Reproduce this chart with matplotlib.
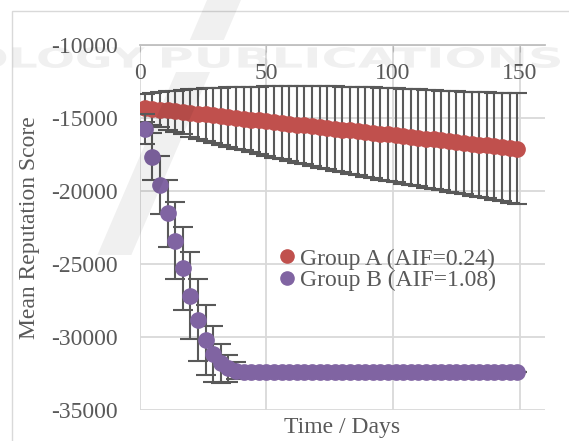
import matplotlib
matplotlib.use("Agg")
import matplotlib.pyplot as plt
from matplotlib.patches import Rectangle, PathPatch, Polygon
from matplotlib.lines import Line2D
from matplotlib.textpath import TextPath
from matplotlib.font_manager import FontProperties
from matplotlib.transforms import Affine2D

# dani (x osa) i srednje vrednosti ocitane sa grafika
days = list(range(2, 150, 3))

group_a_mean = [-14310, -14370, -14420, -14480, -14540, -14590, -14650, -14710, -14760, -14820,
                -14880, -14940, -14990, -15050, -15110, -15160, -15220, -15280, -15330, -15390,
                -15450, -15500, -15560, -15620, -15680, -15730, -15790, -15850, -15900, -15960,
                -16020, -16080, -16130, -16190, -16250, -16300, -16360, -16420, -16470, -16530,
                -16590, -16650, -16700, -16760, -16820, -16870, -16930, -16990, -17040, -17100]
group_a_err = [950, 1090, 1200, 1310, 1420, 1520, 1620, 1710, 1790, 1870,
               1950, 2030, 2100, 2170, 2240, 2310, 2380, 2450, 2510, 2570,
               2630, 2680, 2740, 2790, 2840, 2890, 2940, 2990, 3030, 3070,
               3110, 3150, 3180, 3220, 3250, 3280, 3320, 3350, 3380, 3410,
               3450, 3480, 3510, 3550, 3590, 3630, 3670, 3710, 3760, 3800]

group_b_mean = [-15750, -17650, -19590, -21530, -23400, -25300, -27170, -28840, -30200, -31160,
                -31800, -32140, -32300, -32370, -32400, -32410, -32420, -32420, -32420, -32420,
                -32420, -32420, -32420, -32420, -32420, -32420, -32420, -32420, -32420, -32420,
                -32420, -32420, -32420, -32420, -32420, -32420, -32420, -32420, -32420, -32420,
                -32420, -32420, -32420, -32420, -32420, -32420, -32420, -32420, -32420, -32420]
group_b_err = [1050, 1600, 2000, 2280, 2630, 2850, 2970, 2800, 2370, 1920,
               1350, 910, 600, 300, 150, 80, 40, 20, 0, 0,
               0, 0, 0, 0, 0, 0, 0, 0, 0, 0,
               0, 0, 0, 0, 0, 0, 0, 0, 0, 0,
               0, 0, 0, 0, 0, 0, 0, 0, 0, 0]

labels = ["Group A (AIF=0.24)", "Group B (AIF=1.08)"]
colors = ['#C0504D', '#8064A2']
x_ticks = [0, 50, 100, 150]
y_ticks = [-35000, -30000, -25000, -20000, -15000, -10000]

plt.rcParams['font.family'] = ['Liberation Serif', 'DejaVu Serif']
plt.rcParams['axes.unicode_minus'] = False

text_color = '#595959'
grid_color = '#D9D9D9'
W, H = 569, 441

fig = plt.figure(figsize=(W / 100, H / 100), dpi=100)

# okvir grafikona (odsecen desno i dole)
fig.patches.append(Rectangle((12 / W, -0.1), 1.2, 1 - 11 / H + 0.1, transform=fig.transFigure,
                             fill=False, edgecolor=grid_color, linewidth=1.0, zorder=0))

ax = fig.add_axes([139.7 / W, 1 - 410 / H, (545 - 139.7) / W, 365 / H])

ax.errorbar(days, group_a_mean, yerr=group_a_err, fmt='o', color=colors[0], markersize=11,
            ecolor=text_color, elinewidth=1.5, capsize=7, capthick=1.5, zorder=3)
ax.errorbar(days, group_b_mean, yerr=group_b_err, fmt='o', color=colors[1], markersize=11,
            ecolor=text_color, elinewidth=1.5, capsize=7, capthick=1.5, zorder=4)

ax.set_xlim(0, 160)
ax.set_ylim(-35000, -10000)
ax.set_xticks(x_ticks)
ax.set_yticks(y_ticks)
ax.grid(True, color=grid_color, linewidth=1.3)
ax.set_axisbelow(True)

for side in ['left', 'right', 'bottom']:
    ax.spines[side].set_visible(False)
ax.spines['top'].set_color('#BFBFBF')
ax.spines['top'].set_linewidth(1.3)

ax.xaxis.set_ticks_position('top')
ax.tick_params(axis='x', direction='in', length=5, color='#BFBFBF', pad=-28,
               labelsize=17, labelcolor=text_color)
ax.tick_params(axis='y', length=0, pad=15.5, labelsize=17, labelcolor=text_color)

fig.text(30 / W, 1 - 228 / H, "Mean Reputation Score", rotation=90, ha='center', va='center',
         fontsize=17, color=text_color)
fig.text(342 / W, 1 - 428 / H, "Time / Days", ha='center', va='center',
         fontsize=17, color=text_color)

handles = [Line2D([], [], marker='o', linestyle='none', color=c, markersize=9.5) for c in colors]
leg = ax.legend(handles, labels, loc='upper left', bbox_to_anchor=(280 / W, 1 - 248 / H),
                bbox_transform=fig.transFigure, frameon=False, fontsize=17,
                handlelength=0.6, handletextpad=0.25, labelspacing=0.0,
                borderpad=0, borderaxespad=0)
for t in leg.get_texts():
    t.set_color(text_color)


# bledi vodeni zig preko grafika (u pikselima)
def watermark_text(txt, x0, x1, y_top, y_bottom):
    tp = TextPath((0, 0), txt, size=1, prop=FontProperties(family='DejaVu Sans', weight='bold'))
    bb = tp.get_extents()
    tr = Affine2D().translate(-bb.x0, -bb.y0).scale((x1 - x0) / bb.width, (y_bottom - y_top) / bb.height)
    tr = tr.translate(x0, H - y_bottom)
    fig.add_artist(PathPatch(tp, transform=tr, facecolor='black', edgecolor='none',
                             alpha=0.06, zorder=10))


watermark_text("OLOGY", -28, 145, 47, 68)
watermark_text("PUBLICATIONS", 162, 560, 47, 68)

for y0, y1 in [(0, 40), (72, 255)]:
    pts = [(207 - 0.43 * y0, H - y0), (241 - 0.43 * y0, H - y0),
           (241 - 0.43 * y1, H - y1), (207 - 0.43 * y1, H - y1)]
    fig.add_artist(Polygon(pts, closed=True, transform=Affine2D(), facecolor='black',
                           edgecolor='none', alpha=0.06, zorder=10))

plt.savefig('out.png', dpi=100)
